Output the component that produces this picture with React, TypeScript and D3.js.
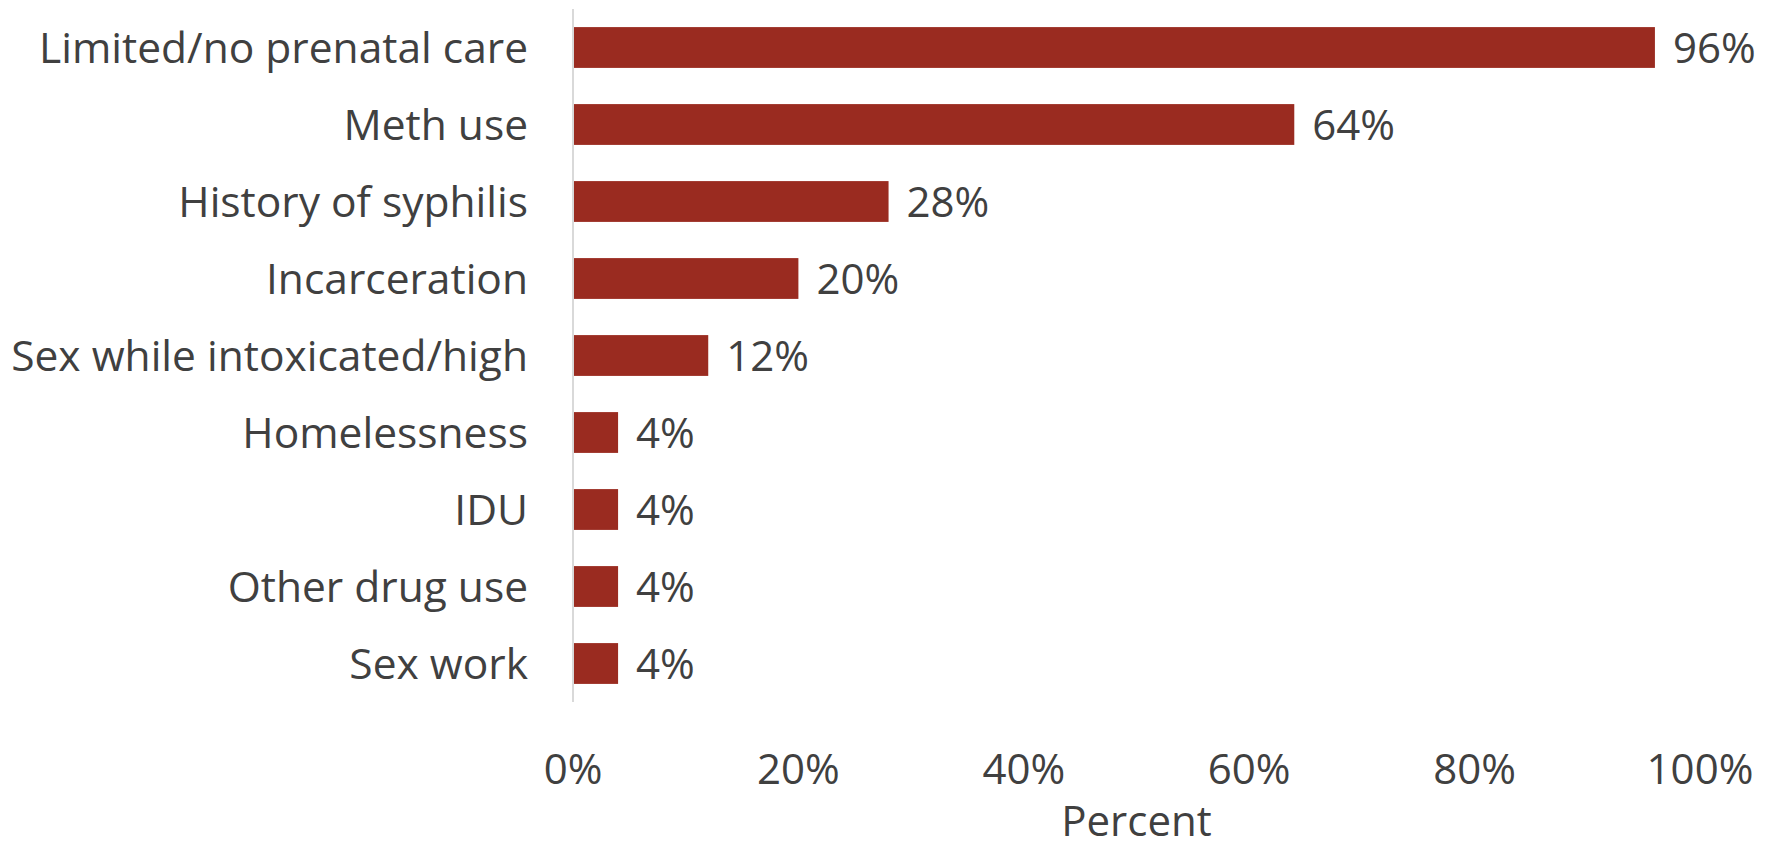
import React from "react";
import * as d3 from "d3";

const categories = [
  "Limited/no prenatal care",
  "Meth use",
  "History of syphilis",
  "Incarceration",
  "Sex while intoxicated/high",
  "Homelessness",
  "IDU",
  "Other drug use",
  "Sex work",
];
const values = [96, 64, 28, 20, 12, 4, 4, 4, 4];
const xTicks = [0, 20, 40, 60, 80, 100];
const xTitle = "Percent";

const W = 1773;
const H = 848;
const FONT = "'Open Sans', sans-serif";
const TEXT = "#404040";
const BAR = "#9A2B20";

export default function App() {
  const x = d3.scaleLinear().domain([0, 100]).range([573, 1700]);
  const y = d3
    .scaleBand<string>()
    .domain(categories)
    .range([9, 702])
    .paddingInner(0.47)
    .paddingOuter(0.235);
  const fmt = (v: number) => `${v}%`;

  return (
    <svg
      width={W}
      height={H}
      style={{ position: "absolute", left: 0, top: 0, background: "#fff" }}
      fontFamily={FONT}
    >
      <rect width={W} height={H} fill="#fff" />
      {categories.map((c, i) => {
        const yy = y(c)!;
        const bw = y.bandwidth();
        return (
          <g key={c}>
            <rect
              x={x(0)}
              y={yy}
              width={x(values[i]) - x(0)}
              height={bw}
              fill={BAR}
            />
            <text
              x={528}
              y={yy + bw / 2}
              dy="0.36em"
              textAnchor="end"
              fontSize={42.5}
              fill={TEXT}
            >
              {c}
            </text>
            <text
              x={x(values[i]) + 18}
              y={yy + bw / 2}
              dy="0.36em"
              fontSize={42}
              fill={TEXT}
            >
              {fmt(values[i])}
            </text>
          </g>
        );
      })}
      <line x1={x(0)} x2={x(0)} y1={9} y2={702} stroke="#d9d9d9" strokeWidth={2} />
      {xTicks.map((t) => (
        <text
          key={t}
          x={x(t)}
          y={784}
          textAnchor="middle"
          fontSize={42}
          fill={TEXT}
        >
          {fmt(t)}
        </text>
      ))}
      <text x={(x(0) + x(100)) / 2} y={836} textAnchor="middle" fontSize={42} fill={TEXT}>
        {xTitle}
      </text>
    </svg>
  );
}
